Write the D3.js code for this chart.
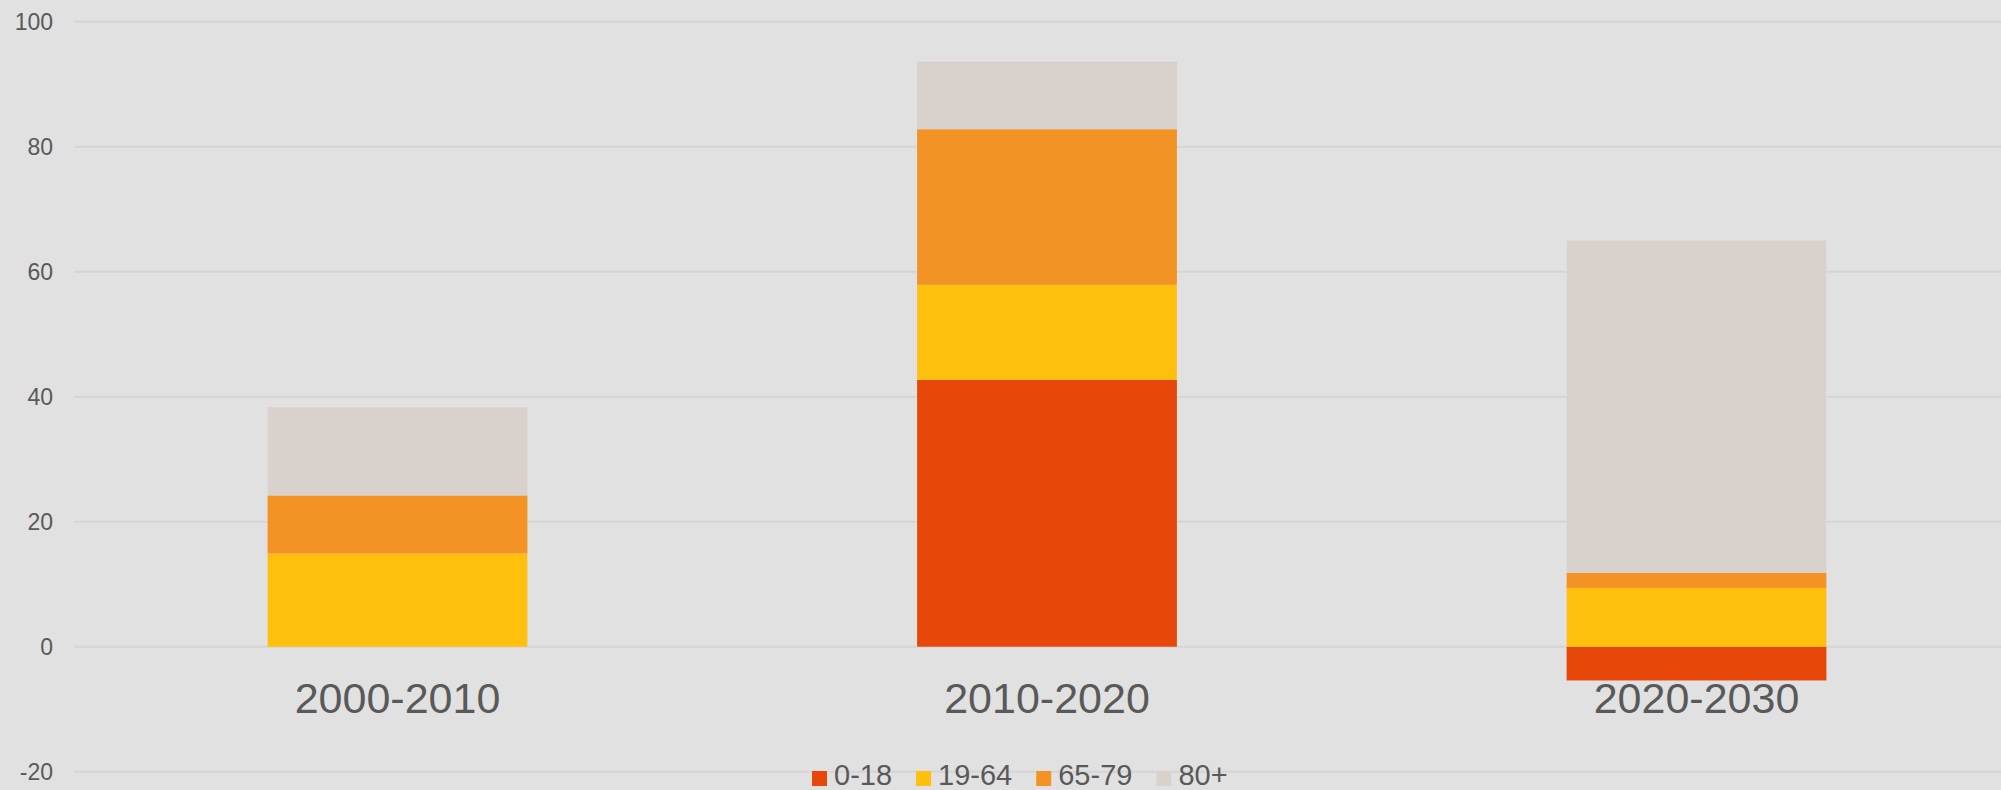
<!DOCTYPE html>
<html>
<head>
<meta charset="utf-8">
<script src="https://cdn.jsdelivr.net/npm/d3@7"></script>
<style>
  html, body { margin: 0; padding: 0; background: #e1e1e1; }
  svg { display: block; font-family: Arial, "Liberation Sans", sans-serif; }
</style>
</head>
<body>
<div class="chart"></div>
<script>
// Data
var periods = ["2000-2010", "2010-2020", "2020-2030"];
var groups = ["0-18", "19-64", "65-79", "80+"];
var age0to18 = [0, 42.7, -5.4];
var age19to64 = [14.9, 15.2, 9.4];
var age65to79 = [9.3, 24.9, 2.4];
var age80plus = [14.1, 10.8, 53.2];
var yTicks = [-20, 0, 20, 40, 60, 80, 100];
var colors = ["#e8470a", "#ffbf0d", "#f39325", "#d9d2cc"];

var svgWidth = 2001;
var svgHeight = 790;

var svg = d3.select(".chart")
  .append("svg")
  .attr("width", svgWidth)
  .attr("height", svgHeight);

svg.append("rect")
  .attr("width", svgWidth)
  .attr("height", svgHeight)
  .attr("fill", "#e1e1e1");

// build rows for the stack
var rows = periods.map(function(p, i) {
  return { period: p, "0-18": age0to18[i], "19-64": age19to64[i], "65-79": age65to79[i], "80+": age80plus[i] };
});

var stacked = d3.stack()
  .keys(groups)
  .offset(d3.stackOffsetDiverging)(rows);

// scales
var xScale = d3.scaleBand()
  .domain(periods)
  .range([72.75, 2021.25])
  .paddingInner(0.6)
  .paddingOuter(0.3);

var yScale = d3.scaleLinear()
  .domain([-20, 100])
  .range([771.7, 21.7]);

var colorScale = d3.scaleOrdinal().domain(groups).range(colors);

// y axis: labels plus gridlines (plain hyphen for negatives, as in the original)
var leftAxis = d3.axisLeft(yScale)
  .tickValues(yTicks)
  .tickFormat(function(d) { return String(d); })
  .tickSize(0)
  .tickPadding(0);
var yAxis = svg.append("g")
  .attr("transform", "translate(53,0)")
  .call(leftAxis);
yAxis.select(".domain").remove();
yAxis.selectAll("text")
  .attr("fill", "#595959")
  .style("font-size", "23px")
  .attr("dy", "0.36em");

svg.append("g")
  .selectAll("line")
  .data(yTicks)
  .enter()
  .append("line")
  .attr("x1", 74)
  .attr("x2", svgWidth)
  .attr("y1", function(d) { return yScale(d); })
  .attr("y2", function(d) { return yScale(d); })
  .attr("stroke", "#d5d5d5")
  .attr("stroke-width", 2);

// stacked bars
svg.append("g")
  .selectAll("g")
  .data(stacked)
  .enter()
  .append("g")
  .attr("fill", function(d) { return colorScale(d.key); })
  .selectAll("rect")
  .data(function(d) { return d; })
  .enter()
  .append("rect")
  .attr("x", function(d) { return xScale(d.data.period); })
  .attr("width", xScale.bandwidth())
  .attr("y", function(d) { return yScale(Math.max(d[0], d[1])); })
  .attr("height", function(d) { return Math.abs(yScale(d[0]) - yScale(d[1])); });

// category labels
var bottomAxis = d3.axisBottom(xScale).tickSize(0).tickPadding(0);
var xAxis = svg.append("g")
  .attr("transform", "translate(0,713)")
  .call(bottomAxis);
xAxis.select(".domain").remove();
xAxis.selectAll("text")
  .attr("fill", "#595959")
  .attr("dy", 0)
  .style("font-size", "43px");

// legend
var legend = svg.append("g").attr("transform", "translate(812,785)");
var legendX = 0;
groups.forEach(function(g) {
  var item = legend.append("g").attr("transform", "translate(" + legendX + ",0)");
  item.append("rect")
    .attr("x", 0)
    .attr("y", -14)
    .attr("width", 15)
    .attr("height", 15)
    .attr("fill", colorScale(g));
  var label = item.append("text")
    .attr("x", 22)
    .attr("fill", "#595959")
    .style("font-size", "29px")
    .text(g);
  legendX += 22 + label.node().getComputedTextLength() + 24;
});
</script>
</body>
</html>
